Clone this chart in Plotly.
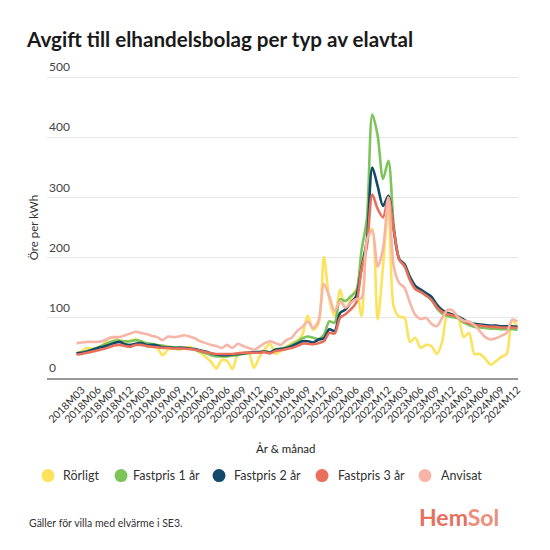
import plotly.graph_objects as go

# Months 2018M02 .. 2024M12
months = [f"{y}M{m:02d}" for y in range(2018, 2025) for m in range(1, 13)][1:]

rorligt = [41, 45, 50, 48, 50, 56, 66, 68, 62, 58, 62, 64, 60, 53, 52, 50, 38, 47, 50, 47,
           49, 52, 47, 42, 35, 27, 16, 30, 28, 15, 40, 42, 42, 17, 35, 48, 57, 40, 45, 52,
           58, 62, 72, 104, 80, 90, 201, 131, 103, 147, 114, 131, 147, 103, 225, 248, 97, 186, 287, 118,
           102, 100, 60, 67, 50, 55, 53, 40, 60, 108, 105, 100, 68, 75, 40, 40, 32, 22, 28, 35,
           40, 95, 85]
fast1 = [41, 43, 45, 48, 51, 55, 59, 62, 62, 61, 61, 63, 61, 58, 57, 55, 54, 52, 51, 51,
         50, 49, 47, 44, 41, 38, 36, 36, 36, 37, 38, 40, 41, 42, 43, 44, 43, 48, 49, 51,
         55, 60, 66, 69, 67, 65, 72, 94, 92, 131, 128, 136, 144, 212, 265, 438, 403, 331, 361, 253,
         197, 186, 165, 148, 143, 138, 130, 116, 107, 103, 101, 99, 92, 88, 85, 84, 83, 82, 82, 81,
         81, 81, 80]
fast2 = [41, 42, 44, 47, 50, 52, 55, 58, 60, 56, 55, 57, 58, 55, 55, 54, 51, 51, 50, 50,
         50, 49, 48, 46, 44, 41, 39, 38, 38, 39, 40, 41, 42, 43, 43, 44, 42, 47, 48, 50,
         53, 57, 61, 61, 59, 64, 66, 81, 78, 108, 114, 125, 136, 183, 230, 350, 319, 286, 303, 245,
         198, 189, 168, 153, 147, 141, 135, 122, 113, 108, 105, 102, 97, 92, 90, 89, 88, 87, 87, 86,
         86, 86, 85]
fast3 = [39, 40, 42, 44, 46, 48, 51, 54, 55, 53, 52, 55, 55, 53, 52, 51, 50, 50, 49, 49,
         49, 48, 47, 45, 43, 41, 40, 40, 40, 40, 41, 42, 42, 42, 42, 43, 41, 45, 46, 48,
         50, 53, 57, 57, 56, 58, 61, 75, 74, 100, 106, 114, 125, 181, 219, 305, 281, 267, 300, 247,
         197, 186, 163, 148, 143, 137, 130, 118, 110, 106, 104, 101, 95, 91, 88, 87, 86, 85, 85, 84,
         84, 84, 83]
anvisat = [58, 59, 60, 60, 60, 62, 66, 68, 68, 71, 74, 77, 75, 73, 70, 68, 63, 69, 68, 69,
           71, 69, 66, 61, 58, 55, 53, 50, 55, 50, 57, 53, 50, 47, 52, 58, 61, 58, 55, 63,
           67, 78, 85, 94, 83, 95, 156, 136, 111, 128, 117, 125, 131, 133, 230, 245, 185, 215, 300, 185,
           158, 150, 125, 105, 98, 100, 90, 86, 100, 113, 112, 100, 95, 94, 88, 78, 68, 64, 66, 70,
           75, 97, 94]

series_names = ["Rörligt", "Fastpris 1 år", "Fastpris 2 år", "Fastpris 3 år", "Anvisat"]
series_values = [rorligt, fast1, fast2, fast3, anvisat]
colors = ["#FDE25B", "#7DC45B", "#134A68", "#E86F5C", "#F7B5A8"]

tick_labels = [m for m in months if m[-2:] in ("03", "06", "09", "12")]
y_ticks = [0, 100, 200, 300, 400, 500]

FONT = "Lato"
W = 550
L, R, T, B = 47, 32, 75.5, 172
PW = W - L - R
PH = W - T - B


def px_x(x):
    return (x - L) / PW


def px_y(y):
    return (W - B - y) / PH


fig = go.Figure()
for name, vals, col in zip(series_names, series_values, colors):
    fig.add_trace(go.Scatter(x=months, y=vals, mode="lines", name=name,
                             line=dict(color=col, width=2.6, shape="spline", smoothing=0.8),
                             showlegend=False, hoverinfo="skip"))

fig.update_layout(
    width=W, height=W,
    margin=dict(l=L, r=R, t=T, b=B, autoexpand=False),
    paper_bgcolor="white", plot_bgcolor="white",
    font=dict(family=FONT, color="#333333"),
    showlegend=False,
    title=dict(text="<b>Avgift till elhandelsbolag per typ av elavtal</b>",
               x=27/W, xanchor="left", xref="container",
               y=1-40/W, yanchor="middle", yref="container",
               font=dict(family=FONT, size=20.6, color="#1a1a1a")),
    xaxis=dict(type="category", categoryorder="array", categoryarray=months,
               range=[-5.5, len(months) - 1 + 0.1],
               tickmode="array", tickvals=tick_labels, ticktext=tick_labels,
               tickangle=-45, tickfont=dict(size=10.5, color="#333333", family=FONT),
               showgrid=False, showline=True, linecolor="#999999", linewidth=1.5,
               ticks="", zeroline=False),
    yaxis=dict(range=[0, 502], tickmode="array", tickvals=y_ticks,
               showticklabels=False,
               showgrid=True, gridcolor="#e6e6e6", gridwidth=1,
               zeroline=False, showline=False, ticks=""),
)

# y tick labels sitting above the gridlines
for v in y_ticks:
    fig.add_annotation(text=str(v), xref="paper", yref="y", x=0, y=v,
                       xanchor="left", yanchor="bottom", yshift=1, showarrow=False,
                       font=dict(size=12, color="#444444", family=FONT))

# legend built from circles + labels
leg_circle_x = [48, 121, 219, 322, 425]
leg_text_x = [60.5, 130.5, 232, 335.5, 438.5]
leg_y = 475.7
for name, col, cx, tx in zip(series_names, colors, leg_circle_x, leg_text_x):
    fig.add_shape(type="circle", xref="paper", yref="paper",
                  xsizemode="pixel", ysizemode="pixel",
                  xanchor=px_x(cx), yanchor=px_y(leg_y),
                  x0=-6.5, x1=6.5, y0=-6.5, y1=6.5,
                  fillcolor=col, line=dict(width=0))
    fig.add_annotation(text=name, xref="paper", yref="paper",
                       x=px_x(tx), y=px_y(leg_y), xanchor="left", yanchor="middle",
                       showarrow=False, font=dict(size=12.5, color="#333333", family=FONT))

fig.add_annotation(text="Öre per kWh", textangle=-90, xref="paper", yref="paper",
                   x=px_x(33), y=px_y(228), xanchor="center", yanchor="middle",
                   showarrow=False, font=dict(size=11.5, color="#333333", family=FONT))
fig.add_annotation(text="År &amp; månad", xref="paper", yref="paper",
                   x=px_x(286), y=px_y(449), xanchor="center", yanchor="middle",
                   showarrow=False, font=dict(size=11.5, color="#222222", family=FONT))
fig.add_annotation(text="Gäller för villa med elvärme i SE3.", xref="paper", yref="paper",
                   x=px_x(27), y=px_y(523), xanchor="left", yanchor="middle",
                   showarrow=False, font=dict(size=10.5, color="#333333", family=FONT))
fig.add_annotation(text="<b><span style='color:#E8705E'>Hem</span><span style='color:#EE8E7C'>Sol</span></b>",
                   xref="paper", yref="paper",
                   x=px_x(501), y=px_y(517), xanchor="right", yanchor="middle",
                   showarrow=False, font=dict(size=23, family=FONT))

fig.write_html("out.html")
